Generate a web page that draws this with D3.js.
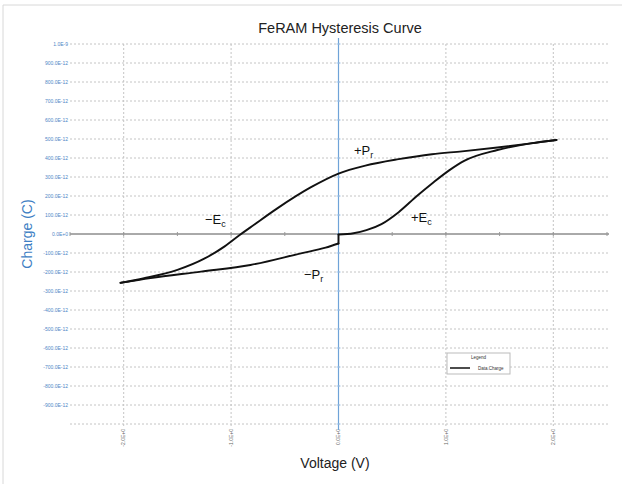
<!DOCTYPE html>
<html>
<head>
<meta charset="utf-8">
<script src="https://cdn.jsdelivr.net/npm/d3@7/dist/d3.min.js"></script>
<style>
  body { margin: 0; background: #fff; }
  svg { display: block; font-family: "Liberation Sans", Arial, sans-serif; }
</style>
</head>
<body>
<svg id="chart" width="622" height="484"></svg>
<script>
// loop data, voltage in V, charge in pC
// upper branch: sweep from +2 V back down to -2 V
const upperV = [-2.03, -1.81, -1.50, -1.25, -1.06, -0.92, -0.82, -0.57, -0.26, 0.0, 0.25, 0.56, 0.87, 1.15, 1.48, 1.79, 2.03];
const upperQ = [-257, -233, -189, -130, -65, -5, 35, 135, 245, 318, 360, 394, 420, 435, 455, 477, 495];
// lower branch, left part: -2 V up to 0 V
const lowLeftV = [-2.03, -1.75, -1.28, -0.82, -0.35, -0.12, 0.0];
const lowLeftQ = [-257, -232, -198, -163, -102, -72, -50];
// lower branch, right part: 0 V up to +2 V
const lowRightV = [0.0, 0.14, 0.26, 0.40, 0.56, 0.73, 0.88, 1.03, 1.17, 1.48, 1.79, 2.03];
const lowRightQ = [-3, 4, 20, 52, 115, 200, 270, 335, 385, 442, 477, 495];

const yTicks = [1000, 900, 800, 700, 600, 500, 400, 300, 200, 100, 0, -100, -200, -300, -400, -500, -600, -700, -800, -900];
const yTickLabels = ["1.0E-9", "900.0E-12", "800.0E-12", "700.0E-12", "600.0E-12", "500.0E-12", "400.0E-12", "300.0E-12", "200.0E-12", "100.0E-12",
  "0.0E+0", "-100.0E-12", "-200.0E-12", "-300.0E-12", "-400.0E-12", "-500.0E-12", "-600.0E-12", "-700.0E-12", "-800.0E-12", "-900.0E-12"];
const xTicks = [-2, -1, 0, 1, 2];
const xTickLabels = ["-2.0E+0", "-1.0E+0", "0.0E+0", "1.0E+0", "2.0E+0"];
const xMinor = [-2.5, -2, -1.5, -1, -0.5, 0, 0.5, 1, 1.5, 2, 2.5];

const svg = d3.select("#chart");

// frame
svg.append("path").attr("d", "M3,484 V5 H622").attr("fill", "none").attr("stroke", "#d8d8d8");

const x = d3.scaleLinear().domain([-2.5, 2.5]).range([70, 607]);
const y = d3.scaleLinear().domain([-1000, 1000]).range([424, 44]);

const grid = "#c4c4c4";

// horizontal grid lines
svg.append("g").selectAll("line").data(yTicks.filter(d => d !== 0).concat([-1000]))
  .join("line")
  .attr("x1", x(-2.5)).attr("x2", x(2.5) + 2)
  .attr("y1", d => y(d)).attr("y2", d => y(d))
  .attr("stroke", grid).attr("stroke-dasharray", "2,2");

// vertical grid lines
svg.append("g").selectAll("line").data(xTicks.filter(d => d !== 0))
  .join("line")
  .attr("x1", d => x(d)).attr("x2", d => x(d))
  .attr("y1", y(1000)).attr("y2", y(-1000) + 3)
  .attr("stroke", grid).attr("stroke-dasharray", "2,2");

// y axis labels
svg.append("g").selectAll("text").data(yTicks)
  .join("text")
  .attr("x", 68).attr("y", d => y(d) + 1.7)
  .attr("text-anchor", "end")
  .attr("font-size", 5)
  .attr("fill", "#4f86c6")
  .text((d, i) => yTickLabels[i]);

// x axis labels, rotated
svg.append("g").selectAll("text").data(xTicks)
  .join("text")
  .attr("transform", d => `translate(${x(d) + 1.7},${y(-1000) + 5}) rotate(-90)`)
  .attr("text-anchor", "end")
  .attr("font-size", 5)
  .attr("fill", "#666")
  .text((d, i) => xTickLabels[i]);

// zero charge axis
svg.append("line")
  .attr("x1", x(-2.5)).attr("x2", x(2.5) + 2)
  .attr("y1", y(0)).attr("y2", y(0))
  .attr("stroke", "#555").attr("stroke-width", 1);
svg.append("g").selectAll("line").data(xMinor)
  .join("line")
  .attr("x1", d => x(d)).attr("x2", d => x(d))
  .attr("y1", y(0) - 2).attr("y2", y(0) + 2)
  .attr("stroke", "#999");

// zero voltage axis (blue)
svg.append("line")
  .attr("x1", x(0)).attr("x2", x(0))
  .attr("y1", y(1000) - 6).attr("y2", y(-1000) + 6)
  .attr("stroke", "#6fa3d8").attr("stroke-width", 1.2);
svg.append("g").selectAll("line").data(yTicks.concat([-1000]))
  .join("line")
  .attr("x1", x(0) - 2).attr("x2", x(0) + 2)
  .attr("y1", d => y(d)).attr("y2", d => y(d))
  .attr("stroke", "#9cc0e6");

// hysteresis loop
const line = d3.line()
  .x(d => x(d[0])).y(d => y(d[1]))
  .curve(d3.curveMonotoneX);
const pts = (vs, qs) => vs.map((v, i) => [v, qs[i]]);

const loop = svg.append("g")
  .attr("fill", "none").attr("stroke", "#111").attr("stroke-width", 1.9)
  .attr("stroke-linejoin", "round").attr("stroke-linecap", "round");
loop.append("path").datum(pts(upperV, upperQ)).attr("d", line);
loop.append("path").datum(pts(lowLeftV, lowLeftQ)).attr("d", line);
loop.append("path").datum(pts(lowRightV, lowRightQ)).attr("d", line);
// switching jump at 0 V
loop.append("line")
  .attr("x1", x(0)).attr("x2", x(0))
  .attr("y1", y(lowLeftQ[lowLeftQ.length - 1])).attr("y2", y(lowRightQ[0]));

// annotations
function label(px, py, sign, letter, sub) {
  const t = svg.append("text").attr("x", px).attr("y", py)
    .attr("font-size", 13).attr("fill", "#111");
  t.append("tspan").text(sign + letter);
  t.append("tspan").attr("font-size", 9).attr("dy", 3).text(sub);
}
label(354, 155, "+", "P", "r");
label(411, 222, "+", "E", "c");
label(205, 224, "\u2212", "E", "c");
label(304, 279, "\u2212", "P", "r");

// titles
svg.append("text")
  .attr("x", 340).attr("y", 33)
  .attr("text-anchor", "middle").attr("font-size", 14.5).attr("fill", "#222")
  .text("FeRAM Hysteresis Curve");
svg.append("text")
  .attr("x", 335).attr("y", 468)
  .attr("text-anchor", "middle").attr("font-size", 14).attr("fill", "#222")
  .text("Voltage (V)");
svg.append("text")
  .attr("transform", `translate(32,${y(0)}) rotate(-90)`)
  .attr("text-anchor", "middle").attr("font-size", 14).attr("fill", "#3f7fc4")
  .text("Charge (C)");

// legend
const lg = svg.append("g").attr("transform", "translate(447,353)");
lg.append("rect").attr("width", 63).attr("height", 21)
  .attr("fill", "#fff").attr("stroke", "#bbb");
lg.append("text").attr("x", 24).attr("y", 6).attr("font-size", 4.5).attr("fill", "#333").text("Legend");
lg.append("line").attr("x1", 3).attr("x2", 23).attr("y1", 15).attr("y2", 15)
  .attr("stroke", "#111").attr("stroke-width", 1.5);
lg.append("text").attr("x", 31).attr("y", 16.5).attr("font-size", 4.5).attr("fill", "#333").text("Data.Charge");
</script>
</body>
</html>
